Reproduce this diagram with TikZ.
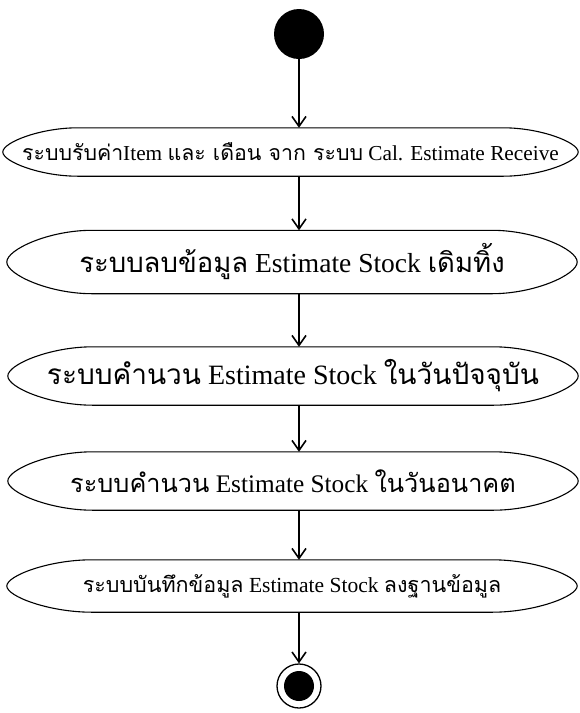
\documentclass[tikz,border=0pt]{standalone}
\usepackage{fontspec}
\setmainfont{Liberation Serif}
\newfontfamily\thaifont[Script=Thai]{Loma}
\usetikzlibrary{arrows.meta,calc}
\newcommand{\thx}[1]{{\thaifont #1}}
\newcommand{\actoutline}[2]{%
  \draw[actline] ($(#1.north west)+(#2,0)$) -- ($(#1.north east)+(-#2,0)$)
    .. controls ($(#1.north east)+(-0.5*#2,0)$) and ($(#1.east)!0.4!(#1.north east)$) .. (#1.east)
    .. controls ($(#1.east)!0.4!(#1.south east)$) and ($(#1.south east)+(-0.5*#2,0)$) .. ($(#1.south east)+(-#2,0)$)
    -- ($(#1.south west)+(#2,0)$)
    .. controls ($(#1.south west)+(0.5*#2,0)$) and ($(#1.west)!0.4!(#1.south west)$) .. (#1.west)
    .. controls ($(#1.west)!0.4!(#1.north west)$) and ($(#1.north west)+(0.5*#2,0)$) .. ($(#1.north west)+(#2,0)$)
    -- cycle;}
\tikzset{
  act/.style={inner sep=0pt, align=center, text=black},
  actline/.style={draw=black, line width=1.1pt},
  flow/.style={draw=black, line width=1.6pt, -{Straight Barb[length=10pt,width=14pt,line width=1.6pt]}},
}
\begin{document}
\begin{tikzpicture}[x=1pt,y=-1pt]
\useasboundingbox[fill=white] (0,0) rectangle (580,713);
% start
\node[circle, fill=black, minimum size=50pt, inner sep=0pt] (s) at (299,34) {};
% activities
\node[act, minimum width=575pt, minimum height=48pt, font=\fontsize{21.3}{23}\selectfont] (a1) at (290.5,152)
  {\thx{ระบบรับค่า}Item \thx{และ เดือน จาก ระบบ} Cal. Estimate Receive};
\node[act, minimum width=570pt, minimum height=63pt, font=\fontsize{27.5}{29}\selectfont] (a2) at (292,262)
  {\thx{ระบบลบข้อมูล} Estimate Stock \thx{เดิมทิ้ง}};
\node[act, minimum width=570pt, minimum height=58pt, font=\fontsize{28}{30}\selectfont] (a3) at (293,376)
  {\thx{ระบบคำนวน} Estimate Stock \thx{ในวันปัจจุบัน}};
\node[act, minimum width=570pt, minimum height=58pt, font=\fontsize{25.3}{27}\selectfont] (a4) at (293,481)
  {\thx{ระบบคำนวน} Estimate Stock \thx{ในวันอนาคต}};
\node[act, minimum width=570pt, minimum height=52pt, font=\fontsize{21.5}{23}\selectfont] (a5) at (292,586)
  {\thx{ระบบบันทึกข้อมูล} Estimate Stock \thx{ลงฐานข้อมูล}};
\actoutline{a1}{75}
\actoutline{a2}{85}
\actoutline{a3}{85}
\actoutline{a4}{85}
\actoutline{a5}{85}
% end
\node[circle, draw=black, line width=1.3pt, fill=white, minimum size=44pt, inner sep=0pt] (e) at (299,686) {};
\node[circle, fill=black, minimum size=30pt, inner sep=0pt] (ein) at (e) {};
% flows
\draw[flow] (s.south) -- (s.south |- a1.north);
\draw[flow] (a1.south -| s) -- (a2.north -| s);
\draw[flow] (a2.south -| s) -- (a3.north -| s);
\draw[flow] (a3.south -| s) -- (a4.north -| s);
\draw[flow] (a4.south -| s) -- (a5.north -| s);
\draw[flow] (a5.south -| e) -- (e.north);
\end{tikzpicture}
\end{document}
